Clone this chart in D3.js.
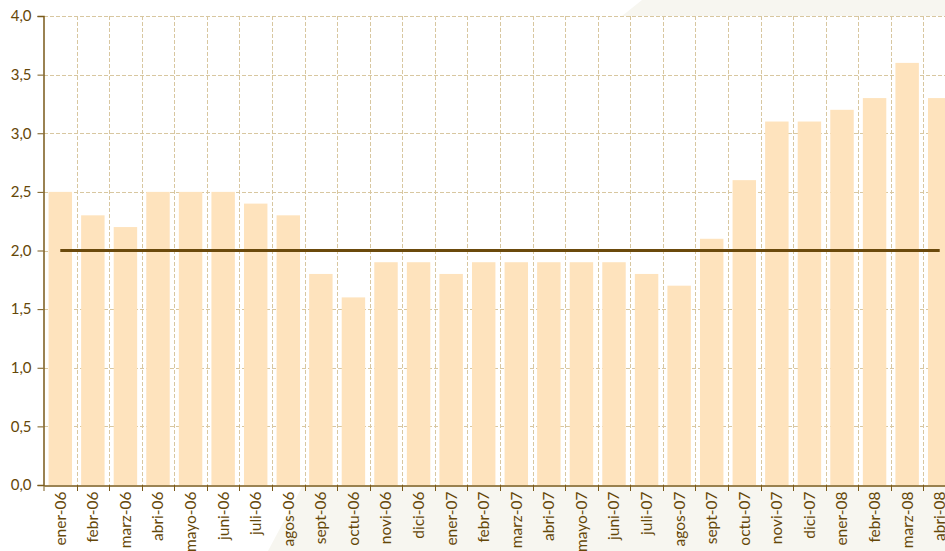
<!DOCTYPE html>
<html>
<head>
<meta charset="utf-8">
<script src="https://cdn.jsdelivr.net/npm/d3@7"></script>
<style>
  html, body { margin: 0; padding: 0; background: #fff; }
  #chart-container { width: 945px; height: 551px; overflow: hidden; }
  .tick text { font-family: "Lato", "Open Sans", sans-serif; fill: #654708; }
</style>
</head>
<body>
<div id="chart-container"></div>
<script>
// categorias (mes-año)
const categorias = [
  "ener-06","febr-06","marz-06","abri-06","mayo-06","juni-06","juli-06","agos-06",
  "sept-06","octu-06","novi-06","dici-06","ener-07","febr-07","marz-07","abri-07",
  "mayo-07","juni-07","juli-07","agos-07","sept-07","octu-07","novi-07","dici-07",
  "ener-08","febr-08","marz-08","abri-08"
];
// valores de cada mes
const valores = [
  2.5, 2.3, 2.2, 2.5, 2.5, 2.5, 2.4, 2.3,
  1.8, 1.6, 1.9, 1.9, 1.8, 1.9, 1.9, 1.9,
  1.9, 1.9, 1.8, 1.7, 2.1, 2.6, 3.1, 3.1,
  3.2, 3.3, 3.6, 3.3
];
// linea de referencia
const meta = 2.0;
// ticks del eje Y
const yTicks = [0, 0.5, 1, 1.5, 2, 2.5, 3, 3.5, 4];

const W = 945, H = 551;
const mLeft = 44, mTop = 16, mBottom = 485, mRight = 956;

const datas = categorias.map((c, i) => ({ mes: c, valor: valores[i] }));

const svg = d3.select('#chart-container').append('svg')
  .attr('width', W)
  .attr('height', H);

// fondo decorativo
svg.append('polygon')
  .attr('points', `642,0 ${W},0 ${W},${mTop} 622,${mTop}`)
  .attr('fill', '#f7f6f0');
svg.append('polygon')
  .attr('points', `303,${mBottom} ${W},${mBottom} ${W},${H} 268,${H}`)
  .attr('fill', '#f7f6f0');

const xAxis = d3.scaleBand()
  .domain(categorias)
  .range([mLeft, mRight])
  .paddingInner(0.28)
  .paddingOuter(0.14);

const yAxis = d3.scaleLinear()
  .domain([0, 4])
  .range([mBottom, mTop]);

const step = xAxis.step();
const boundary = c => xAxis(c) + xAxis.bandwidth() + (step - xAxis.bandwidth()) / 2;

// grilla
const grid = svg.append('g')
  .attr('stroke', '#d8c7a0')
  .attr('stroke-width', 1)
  .attr('stroke-dasharray', '4,2');
grid.selectAll('line.h')
  .data(yTicks.filter(t => t > 0))
  .enter().append('line')
  .attr('x1', mLeft).attr('x2', W)
  .attr('y1', d => Math.round(yAxis(d)) + 0.5)
  .attr('y2', d => Math.round(yAxis(d)) + 0.5);
grid.selectAll('line.v')
  .data(categorias)
  .enter().append('line')
  .attr('x1', d => Math.round(boundary(d)) + 0.5)
  .attr('x2', d => Math.round(boundary(d)) + 0.5)
  .attr('y1', mTop).attr('y2', mBottom);

// barras
svg.append('g').selectAll('rect')
  .data(datas)
  .enter().append('rect')
  .attr('x', d => xAxis(d.mes))
  .attr('y', d => yAxis(d.valor))
  .attr('width', xAxis.bandwidth())
  .attr('height', d => yAxis(0) - yAxis(d.valor))
  .attr('fill', '#fee3bd');

// linea de meta
svg.append('line')
  .attr('x1', xAxis(categorias[0]) + xAxis.bandwidth() / 2)
  .attr('x2', xAxis(categorias[categorias.length - 1]) + xAxis.bandwidth() / 2)
  .attr('y1', yAxis(meta))
  .attr('y2', yAxis(meta))
  .attr('stroke', '#6b4a0c')
  .attr('stroke-width', 3);

// eje Y
const gy = svg.append('g')
  .attr('transform', `translate(${mLeft - 0.5},0)`)
  .call(d3.axisLeft(yAxis)
    .tickValues(yTicks)
    .tickSize(6)
    .tickPadding(6)
    .tickFormat(d => d3.format('.1f')(d).replace('.', ',')));
gy.select('.domain').attr('stroke', '#7a5a1a').attr('stroke-width', 1.5);
gy.selectAll('.tick line').attr('stroke', '#7a5a1a');
gy.selectAll('.tick text').style('font-size', '15px');

// eje X
const gx = svg.append('g')
  .attr('transform', `translate(0,${mBottom + 0.5})`)
  .call(d3.axisBottom(xAxis).tickSize(0).tickPadding(0));
gx.select('.domain').attr('stroke', '#7a5a1a').attr('stroke-width', 1.5);
gx.selectAll('.tick text')
  .style('font-size', '15.5px')
  .attr('text-anchor', 'end')
  .attr('dy', '0.35em')
  .attr('transform', 'translate(0,6) rotate(-90)')
  .attr('x', 0).attr('y', 0);
// marcas en los limites de cada categoria
svg.append('g').selectAll('line')
  .data([categorias[0]].concat(categorias))
  .enter().append('line')
  .attr('x1', (d, i) => i === 0 ? mLeft : Math.round(boundary(d)) + 0.5)
  .attr('x2', (d, i) => i === 0 ? mLeft : Math.round(boundary(d)) + 0.5)
  .attr('y1', mBottom).attr('y2', mBottom + 6)
  .attr('stroke', '#7a5a1a');
</script>
</body>
</html>
